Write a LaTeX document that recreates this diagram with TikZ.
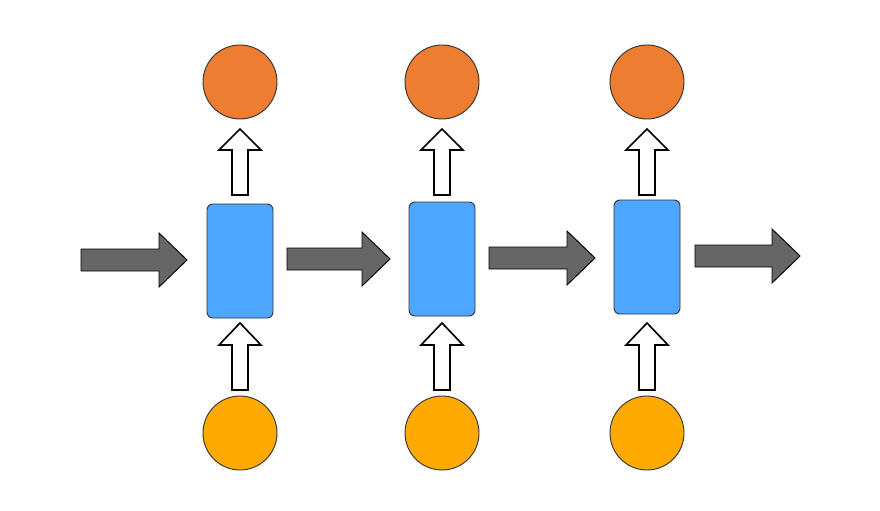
\documentclass[tikz,border=0pt]{standalone}
\begin{document}
\begin{tikzpicture}[x=0.03cm,y=-0.03cm,
  outc/.style={circle,draw=black!80,line width=0.8pt,fill={rgb,255:red,237;green,125;blue,49},minimum size=74*0.03cm,inner sep=0},
  inc/.style={circle,draw=black!80,line width=0.8pt,fill={rgb,255:red,255;green,170;blue,0},minimum size=74*0.03cm,inner sep=0},
  cell/.style={rectangle,rounded corners=5pt,draw=black!80,line width=0.8pt,fill={rgb,255:red,77;green,166;blue,255},minimum width=66*0.03cm,minimum height=114*0.03cm,inner sep=0},
  grayarr/.style={draw=black,line width=0.8pt,fill={rgb,255:red,102;green,102;blue,102},line join=miter},
  whitearr/.style={draw=black,line width=1.4pt,fill=white,line join=miter}]
\useasboundingbox (0,0) rectangle (880,510);
\fill[white] (0,0) rectangle (880,510);
\foreach \i/\x/\yb in {1/240/261, 2/442/259, 3/647/257}{
  \node[outc] (o\i) at (\x,82) {};
  \node[inc] (n\i) at (\x,433) {};
  \node[cell] (c\i) at (\x,\yb) {};
  % upper white arrow
  \draw[whitearr] (\x-8,195) -- (\x-8,150) -- (\x-21,150) -- (\x,129) -- (\x+21,150) -- (\x+8,150) -- (\x+8,195) -- cycle;
  % lower white arrow
  \draw[whitearr] (\x-8,390) -- (\x-8,345) -- (\x-21,345) -- (\x,323) -- (\x+21,345) -- (\x+8,345) -- (\x+8,390) -- cycle;
}
\foreach \a/\b/\y in {81/187/260, 287/390/259, 489/595/258, 695/800/256}{
  \draw[grayarr] (\a,\y-11) -- (\b-28,\y-11) -- (\b-28,\y-27) -- (\b,\y) -- (\b-28,\y+27) -- (\b-28,\y+11) -- (\a,\y+11) -- cycle;
}
\end{tikzpicture}
\end{document}
